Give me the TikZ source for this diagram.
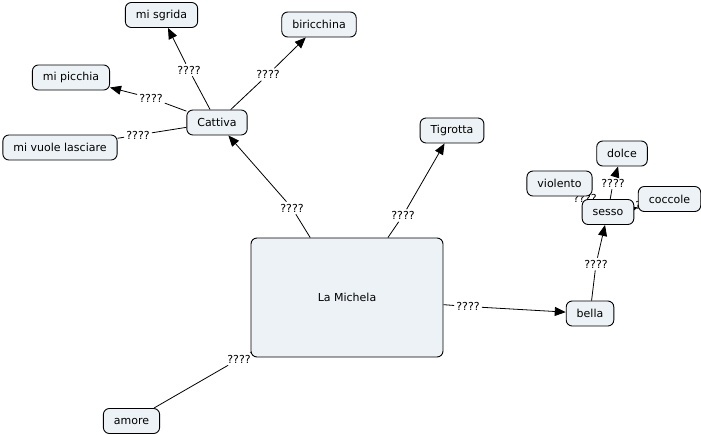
\documentclass[tikz,border=0pt]{standalone}
\usepackage{fontspec}
\setmainfont{DejaVu Sans}
\usetikzlibrary{arrows.meta, backgrounds}

\definecolor{conceptfill}{HTML}{ECF2F5}
\tikzset{
	concept/.style={draw, fill=conceptfill, rounded corners=6pt, minimum height=25pt, inner xsep=10.5pt, line width=0.9pt, font=\fontsize{11}{13}\selectfont},
	linkword/.style={inner sep=2pt, font=\fontsize{11}{13}\selectfont},
	link/.style={line width=0.8pt},
	linkto/.style={link, -{Triangle[length=11pt, width=9pt]}}
}

\begin{document}
\begin{tikzpicture}[x=1pt, y=-1pt]
	\useasboundingbox (0,0) rectangle (701,434);

	% concepts
	\node [concept, minimum width=192pt, minimum height=119pt] (michela) at (347,297.5) {La Michela};
	\node [concept] (cattiva) at (217,122.5) {Cattiva};
	\node [concept] (sgrida) at (161.5,15) {mi sgrida};
	\node [concept] (biricchina) at (319,24.5) {biricchina};
	\node [concept] (picchia) at (71,77.5) {mi picchia};
	\node [concept] (lasciare) at (60,147.5) {mi vuole lasciare};
	\node [concept] (tigrotta) at (452,130.5) {Tigrotta};
	\node [concept] (bella) at (590,313.5) {bella};
	\node [concept] (sesso) at (608,212) {sesso};
	\node [concept] (dolce) at (622,153.5) {dolce};
	\node [concept] (violento) at (559.5,183.5) {violento};
	\node [concept] (coccole) at (669.5,199) {coccole};
	\node [concept] (amore) at (131.5,421) {amore};

	% linking phrases
	\begin{scope}[on background layer]
		\node [linkword] (wcattiva) at (292,208) {????};
		\draw [link] (michela) -- (wcattiva);
		\draw [linkto] (wcattiva) -- (cattiva);

		\node [linkword] (wtigrotta) at (403,215.5) {????};
		\draw [link] (michela) -- (wtigrotta);
		\draw [linkto] (wtigrotta) -- (tigrotta);

		\node [linkword] (wbella) at (468,306.5) {????};
		\draw [link] (michela) -- (wbella);
		\draw [linkto] (wbella) -- (bella);

		\node [linkword] (wamore) at (239,359) {????};
		\draw [link] (michela) -- (wamore);
		\draw [link] (wamore) -- (amore);

		\node [linkword] (wsgrida) at (189,70) {????};
		\draw [link] (cattiva) -- (wsgrida);
		\draw [linkto] (wsgrida) -- (sgrida);

		\node [linkword] (wbiricchina) at (268,74.5) {????};
		\draw [link] (cattiva) -- (wbiricchina);
		\draw [linkto] (wbiricchina) -- (biricchina);

		\node [linkword] (wpicchia) at (151,98) {????};
		\draw [link] (cattiva) -- (wpicchia);
		\draw [linkto] (wpicchia) -- (picchia);

		\node [linkword] (wlasciare) at (138,135) {????};
		\draw [link] (cattiva) -- (wlasciare);
		\draw [link] (wlasciare) -- (lasciare);

		\node [linkword] (wsesso) at (596,264) {????};
		\draw [link] (bella) -- (wsesso);
		\draw [linkto] (wsesso) -- (sesso);

		\node [linkword] (wdolce) at (613,183) {????};
		\draw [link] (sesso) -- (wdolce);
		\draw [linkto] (wdolce) -- (dolce);

		\node [linkword] (wviolento) at (585,198) {????};
		\draw [link] (sesso) -- (wviolento);
		\draw [linkto] (wviolento) -- (violento);

		\node [linkword] (wcoccole) at (647,205) {????};
		\draw [link] (sesso) -- (wcoccole);
		\draw [linkto] (wcoccole) -- (coccole);
	\end{scope}
\end{tikzpicture}
\end{document}
